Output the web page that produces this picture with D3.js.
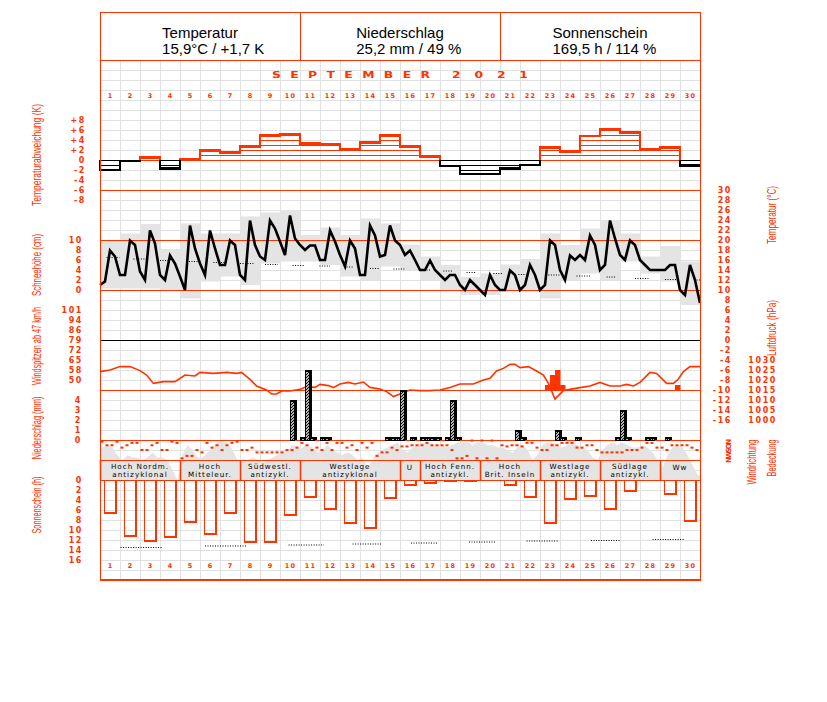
<!DOCTYPE html>
<html><head><meta charset="utf-8">
<script src="https://cdn.jsdelivr.net/npm/d3@7"></script>
<style>body{margin:0;background:#fff}</style>
</head><body><svg id="c" width="827" height="702" xmlns="http://www.w3.org/2000/svg"></svg>
<script>
// ---------------- DATA ----------------
const days = d3.range(1, 31);
const headerTitles = ['Temperatur', 'Niederschlag', 'Sonnenschein'];
const headerValues = ['15,9°C / +1,7 K', '25,2 mm / 49 %', '169,5 h / 114 %'];
const monthLabel = 'SEPTEMBER';
const yearLabel = '2021';

// daily temperature anomaly (K)
const anomaly = [-2.0,-0.2,0.5,-1.7,0.2,1.9,1.5,2.7,4.9,5.1,3.3,3.1,2.1,3.5,4.9,2.7,0.7,-1.2,-2.8,-2.8,-1.7,-1.0,2.5,1.7,4.8,6.1,5.5,2.1,2.5,-1.1];

// 6-hourly temperature (°C), 121 readings from 1st 00h to 30th 24h
const temp6h = [11.0,11.7,17.9,16.7,13.0,13.0,19.9,19.0,13.7,12.0,21.9,19.3,13.0,12.0,16.9,15.3,12.7,10.0,22.9,18.3,
15.3,13.0,21.9,18.3,15.0,15.0,19.9,19.0,13.0,12.0,23.9,19.0,16.7,16.0,23.9,22.3,19.7,17.0,24.9,20.3,
19.0,18.0,18.9,18.9,16.0,16.0,21.9,19.7,17.0,14.7,19.9,18.3,13.0,13.0,22.9,20.9,16.7,17.0,22.9,19.9,
19.0,17.0,17.9,16.0,14.0,14.0,15.9,14.0,13.0,12.0,13.0,13.0,11.0,10.0,12.0,11.0,10.0,9.0,13.0,11.0,
10.0,10.0,13.9,13.0,10.0,11.0,15.0,13.0,10.0,11.0,19.9,19.0,14.0,12.0,16.9,16.0,17.0,16.0,20.9,19.0,
14.0,15.0,23.9,20.3,17.0,16.0,19.9,19.0,16.0,15.0,14.0,14.0,14.0,14.0,15.0,15.0,10.0,9.0,15.0,12.0,7.4];

// daily grey band (°C)
const bandMax = [20,21.3,23.2,18.2,23.3,21.3,21.3,24.7,25.5,26,21,22.5,21,24.3,23.3,19.1,16.7,15,12.6,13.3,15.1,16.2,21.3,19,22.3,24,21.3,16.7,18.8,15.7];
const bandMin = [10.3,10.3,10.3,10,8.3,11.7,12.7,11,15.3,15.7,15.7,15,12.7,12,14.7,14,12,10,9,9,9.7,9.7,8.3,12,13.3,12,15.7,13.3,11.7,7];

// normal temperature (dotted segments)
const normTStart = [0.33,1.67,3.0,4.45,5.67,7.0,8.25,9.63,10.97,12.33,13.5,14.67,16.08,17.17,18.33,19.67,20.92,22.42,23.83,25.33,26.75,28.25,29.83];
const normTEnd   = [0.97,2.33,3.5,4.95,6.33,7.67,8.9,10.2,11.5,12.67,14.0,15.25,16.5,17.67,18.83,20.17,21.33,23.0,24.5,25.83,27.42,28.83,30];
const normTVal   = [16.5,16.2,15.9,15.7,15.5,15.3,15.1,14.9,14.8,14.6,14.3,14.2,14.0,13.8,13.5,13.3,13.1,13.0,12.8,12.6,12.3,12.1,12.0];

// air pressure (time in days, hPa)
const pressTime = [0,0.5,1,1.5,2,2.33,2.67,3.17,3.75,4.25,4.75,5,5.67,6.33,6.83,7.08,7.5,7.83,8.33,8.58,8.83,9.08,9.5,10,10.33,10.75,11,11.42,11.67,12,12.42,12.75,13.17,13.5,14,14.33,14.67,15,15.5,16,16.5,17,17.5,18,18.67,19.17,19.5,19.83,20.17,20.5,20.75,21,21.42,21.83,22.17,22.42,22.75,23.17,23.5,24,24.5,25,25.5,26,26.33,26.67,27,27.5,27.83,28.33,28.67,28.92,29.17,29.5,30];
const pressVal = [1024.2,1025,1026.7,1026.7,1024.7,1022.5,1018.3,1019.2,1019.2,1022.5,1022,1023.8,1023.3,1023.8,1023.3,1023.8,1020.3,1017,1015,1013,1013,1014.5,1014.5,1015.3,1016.7,1016.3,1017.8,1017.2,1016.2,1018,1018.8,1018,1019,1016.3,1015.5,1014.2,1011.7,1013,1015,1014.7,1014.7,1015,1016.2,1018,1018,1020,1020.8,1024.5,1025.8,1027.8,1027.8,1026.2,1026.7,1024.5,1022.5,1018.3,1010.5,1014.7,1015.3,1016.2,1017,1018.8,1017,1017,1017.8,1017,1018.8,1023.8,1023.3,1018.3,1018.3,1020.5,1024.2,1026.7,1026.7];

// wind gusts (6-hour slot index, km/h)
const gustSlot = [89,90,91,92,115];
const gustVal  = [46.8,54,57.6,46.8,46.8];

// precipitation (6-hour slot index, mm)
const precSlot = [38,40,41,42,44,45,57,58,59,60,62,64,65,66,67,69,70,71,83,84,91,92,95,103,104,105,109,110,113];
const precVal  = [4.0,0.3,7.0,0.3,0.3,0.3,0.3,0.3,0.3,5.0,0.3,0.3,0.3,0.3,0.3,0.3,4.0,0.3,1.0,0.3,1.0,0.3,0.3,0.3,3.0,0.3,0.3,0.3,0.3];

// wind direction (degrees, 6-hourly, 120 values)
const windDir = [22,90,90,22, 135,90,45,45, 180,180,90,45, 180,180,22,45, 337,292,292,180,
225,45,135,90, 180,90,45,22, 180,180,135,225, 225,225,225,225, 225,180,180,135,
45,90,180,135, 180,45,180,45, 45,135,90,180, 45,135,45,292, 225,225,135,180,
112,112,90,90, 90,45,90,90, 90,90,180,337, 337,292,0,337, 0,337,0,337,
90,112,90,90, 112,45,45,135, 180,180,90,90, 45,45,45,135, 135,90,90,180,
225,225,225,225, 225,180,180,180, 135,45,45,135, 135,180,90,90, 90,90,135,180];

// cloud cover (eighths, 6-hourly, 120 values)
const cover = [6.5,7,6.5,5, 4,5,4.5,4.5, 4,4.5,5.5,4.5, 4.5,4,2,0, 5,7,6,4.5,
4.5,5.5,6.5,7.5, 7.8,7.5,6,4, 3.5,4,4.5,4, 3.5,4,4.5,5, 5.5,6,7,6.5,
6.5,7,6.5,5.5, 6,7,6,5.5, 5,5.5,5,4, 4.5,2.5,4,5.5, 6,6.5,7,7.5,
6,5.5,6.5,7, 7.5,7.5,7,7, 7,6.5,7,7.5, 7.5,7.5,7,7.5, 7.5,7,7,6.5,
6.5,6,5.5,6.5, 7,6,4,5, 7,7.5,7.5,7, 6.5,7,7.5,7, 6.5,6,4.5,4,
6,7,7.5,7, 7.5,7,6.5,6.5, 7,6.5,5.5,4, 2.5,5,6.5,7, 6.5,5,3,1];

// weather types (Großwetterlagen)
const wtStart = [0,4,7,10,15,16,19,22,25,28];
const wtEnd   = [4,7,10,15,16,19,22,25,28,30];
const wtLine1 = ['Hoch Nordm.','Hoch','Südwestl.','Westlage','U','Hoch Fenn.','Hoch','Westlage','Südlage','Ww'];
const wtLine2 = ['antizyklonal','Mitteleur.','antizykl.','antizyklonal','','antizykl.','Brit. Inseln','antizykl.','antizykl.',''];

// sunshine (h per day)
const sun = [6.7,11.3,12.3,11.5,8.5,10.9,6.7,12.5,12.5,7.1,3.5,5.9,8.7,9.7,3.7,1.0,0.7,0.2,0.2,0,1.0,3.5,8.7,3.9,3.3,5.9,2.3,0,2.9,8.3];
const normSStart = [1.03,5.25,9.43,12.63,15.55,18.45,21.33,24.55,27.63];
const normSEnd   = [3.12,7.3,11.2,14.1,16.88,19.8,22.9,26.0,29.2];
const normSVal   = [13.5,13.2,13.0,12.8,12.6,12.4,12.2,12.1,11.9];

// tick labels
const anomTicks = [8,6,4,2,0,-2,-4,-6,-8];
const snowTicks = [10,8,6,4,2,0];
const windTicks = [100.8,93.6,86.4,79.2,72,64.8,57.6,50.4];
const precTicks = [4,3,2,1,0];
const sunTicks  = [0,2,4,6,8,10,12,14,16];
const tempTicks = d3.range(30,-17,-2);
const pressTicks = [1030,1025,1020,1015,1010,1005,1000];

// ---------------- DRAW ----------------
const RED = '#ff3300', GRID = '#e1e1e1', GREY = '#e4e4e4';
const svg = d3.select('#c');
svg.append('rect').attr('width',827).attr('height',702).attr('fill','#fff');

const x = d3.scaleLinear().domain([0,30]).range([100,700]);
const yAnom = d3.scaleLinear().domain([-8,8]).range([200,120]);
const yTemp = d3.scaleLinear().domain([-16,30]).range([420,190]);
const ySnow = d3.scaleLinear().domain([0,10]).range([290,240]);
const yPress = d3.scaleLinear().domain([1000,1030]).range([420,360]);
const yWind = d3.scaleLinear().domain([43.2,100.8]).range([390,310]);
const yPrec = d3.scaleLinear().domain([0,4]).range([440,400]);
const yDir = d3.scaleLinear().domain([0,360]).range([440.5,459.5]);
const yCover = d3.scaleLinear().domain([0,8]).range([480,440]);
const ySun = d3.scaleLinear().domain([0,16]).range([480,560]);

const defs = svg.append('defs');
const pat = defs.append('pattern').attr('id','hatch').attr('patternUnits','userSpaceOnUse').attr('width',3).attr('height',3);
pat.append('rect').attr('width',3).attr('height',3).attr('fill','#fff');
pat.append('path').attr('d','M-1,1 L1,-1 M0,3 L3,0 M2,4 L4,2').attr('stroke','#000').attr('stroke-width',1.1);

// grid
const grid = svg.append('g').attr('shape-rendering','crispEdges');
d3.range(60,581,10).forEach(y => grid.append('line').attr('x1',100).attr('x2',700).attr('y1',y+0.5).attr('y2',y+0.5).attr('stroke',GRID));
d3.range(0,31).forEach(i => grid.append('line').attr('x1',x(i)+0.5).attr('x2',x(i)+0.5).attr('y1',60).attr('y2',580).attr('stroke',GRID));

// temperature grey bands
svg.append('g').selectAll('rect').data(days).join('rect')
  .attr('x',(d,i)=>x(i)).attr('width',x(1)-x(0))
  .attr('y',(d,i)=>yTemp(bandMax[i])).attr('height',(d,i)=>yTemp(bandMin[i])-yTemp(bandMax[i]))
  .attr('fill',GREY);

// cloud cover area
const coverPts = [[0,cover[0]]].concat(cover.map((c,i)=>[i/4+0.125,c])).concat([[30,cover[cover.length-1]]]);
svg.append('path').datum(coverPts)
  .attr('d', d3.area().x(d=>x(d[0])).y0(yCover(0)).y1(d=>yCover(d[1])))
  .attr('fill',GREY);

// separators
const sep = svg.append('g').attr('shape-rendering','crispEdges');
[yTemp(30), yTemp(20), yTemp(10), yWind(43.2), yPrec(0), 460, yCover(0)].forEach(y =>
  sep.append('line').attr('x1',100).attr('x2',700).attr('y1',y+0.5).attr('y2',y+0.5).attr('stroke',RED).attr('stroke-width',1.2));
sep.append('line').attr('x1',100).attr('x2',700).attr('y1',yTemp(0)+0.5).attr('y2',yTemp(0)+0.5).attr('stroke','#000').attr('stroke-width',1.2);

// temperature anomaly: hatching + steps
const ga = svg.append('g').attr('shape-rendering','crispEdges');
anomaly.forEach((v,i) => {
  const col = v > 0 ? RED : '#000';
  const s = v >= 0 ? 1 : -1;
  for (let j = 0; j < Math.abs(v); j++) {
    ga.append('line').attr('x1',x(i)).attr('x2',x(i+1)).attr('y1',yAnom(s*j)).attr('y2',yAnom(s*j)).attr('stroke',col).attr('stroke-width',1);
  }
  ga.append('line').attr('x1',x(i)-1).attr('x2',x(i+1)+1).attr('y1',yAnom(v)).attr('y2',yAnom(v)).attr('stroke',col).attr('stroke-width',2.5);
  const pv = i === 0 ? 0 : anomaly[i-1];
  if ((pv >= 0) === (v >= 0) || pv === 0) {
    ga.append('line').attr('x1',x(i)).attr('x2',x(i)).attr('y1',yAnom(pv)).attr('y2',yAnom(v)).attr('stroke',col).attr('stroke-width',2.5);
  } else {
    ga.append('line').attr('x1',x(i)).attr('x2',x(i)).attr('y1',yAnom(pv)).attr('y2',yAnom(0)).attr('stroke',pv>0?RED:'#000').attr('stroke-width',2.5);
    ga.append('line').attr('x1',x(i)).attr('x2',x(i)).attr('y1',yAnom(0)).attr('y2',yAnom(v)).attr('stroke',col).attr('stroke-width',2.5);
  }
});

// normal temperature dotted
svg.append('g').selectAll('line').data(normTVal).join('line')
  .attr('x1',(d,i)=>x(normTStart[i])).attr('x2',(d,i)=>x(normTEnd[i]))
  .attr('y1',d=>yTemp(d)).attr('y2',d=>yTemp(d))
  .attr('stroke','#000').attr('stroke-width',1).attr('stroke-dasharray','1,1.5');

// temperature line
svg.append('path').datum(temp6h)
  .attr('d', d3.line().x((d,i)=>x(i/4)).y(d=>yTemp(d)))
  .attr('fill','none').attr('stroke','#000').attr('stroke-width',2.6).attr('stroke-linejoin','miter');

// pressure line
svg.append('path').datum(pressVal)
  .attr('d', d3.line().x((d,i)=>x(pressTime[i])).y(d=>yPress(d)))
  .attr('fill','none').attr('stroke',RED).attr('stroke-width',1.6);

// gusts
svg.append('g').selectAll('rect').data(gustVal).join('rect')
  .attr('x',(d,i)=>x(gustSlot[i]/4)).attr('width',x(0.25)-x(0)+0.5)
  .attr('y',d=>yWind(d)).attr('height',d=>yWind(43.2)-yWind(d))
  .attr('fill',RED);

// precipitation
const gp = svg.append('g').attr('shape-rendering','crispEdges');
precVal.forEach((v,i) => {
  const x0 = x(precSlot[i]/4);
  const yt = yPrec(v);
  const h = yPrec(0) - yt;
  gp.append('rect').attr('x',x0+0.5).attr('y',yt+0.5).attr('width',4).attr('height',Math.max(h-0.5,1)).attr('fill','url(#hatch)').attr('stroke','#000').attr('stroke-width',1);
  gp.append('rect').attr('x',x0+4.5).attr('y',yt).attr('width',2.2).attr('height',h).attr('fill','#000');
  gp.append('rect').attr('x',x0).attr('y',yt).attr('width',6.7).attr('height',1.5).attr('fill','#000');
});

// wind direction dots
svg.append('g').selectAll('rect').data(windDir).join('rect')
  .attr('x',(d,i)=>x(i/4)+0.5).attr('y',d=>yDir(d)-1).attr('width',3).attr('height',2).attr('fill',RED);

// weather types
const gw = svg.append('g');
wtStart.forEach((s,i) => {
  gw.append('line').attr('x1',x(s)+0.5).attr('x2',x(s)+0.5).attr('y1',460).attr('y2',480).attr('stroke',RED).attr('stroke-width',1.5);
  const cx = (x(s)+x(wtEnd[i]))/2;
  const style = t => t.attr('text-anchor','middle')
    .style('font-family',"'DejaVu Sans',sans-serif").style('font-size','7.2px').style('letter-spacing','1px').attr('fill','#000');
  if (wtLine2[i]) {
    gw.append('text').attr('x',cx).attr('y',468.6).call(style).text(wtLine1[i]);
    gw.append('text').attr('x',cx).attr('y',476.6).call(style).text(wtLine2[i]);
  } else {
    gw.append('text').attr('x',cx).attr('y',469.5).call(style).text(wtLine1[i]);
  }
});

// sunshine bars
const gs = svg.append('g').attr('shape-rendering','crispEdges');
sun.forEach((v,i) => {
  if (v <= 0) return;
  const x0 = x(i) + 4, x1 = x(i) + 17;
  const yb = ySun(v);
  gs.append('rect').attr('x',x0+0.5).attr('y',480).attr('width',x1-x0-1).attr('height',yb-480).attr('fill','none').attr('stroke',RED).attr('stroke-width',1);
  gs.append('rect').attr('x',x1-2.5).attr('y',480).attr('width',2.5).attr('height',yb-480+0.5).attr('fill',RED);
  gs.append('rect').attr('x',x0).attr('y',yb-1.5).attr('width',x1-x0).attr('height',2).attr('fill',RED);
});
svg.append('g').selectAll('line').data(normSVal).join('line')
  .attr('x1',(d,i)=>x(normSStart[i])).attr('x2',(d,i)=>x(normSEnd[i]))
  .attr('y1',d=>ySun(d)).attr('y2',d=>ySun(d))
  .attr('stroke','#000').attr('stroke-width',1).attr('stroke-dasharray','1,1.5');

// outer frame and header
const fr = svg.append('g').attr('shape-rendering','crispEdges');
fr.append('rect').attr('x',100.5).attr('y',12.5).attr('width',600).attr('height',567.5).attr('fill','none').attr('stroke',RED).attr('stroke-width',1.5);
fr.append('line').attr('x1',100).attr('x2',700).attr('y1',60.5).attr('y2',60.5).attr('stroke',RED).attr('stroke-width',1.5);
[300,500].forEach(xx => fr.append('line').attr('x1',xx+0.5).attr('x2',xx+0.5).attr('y1',12).attr('y2',60).attr('stroke',RED).attr('stroke-width',1.2));

headerTitles.forEach((t,i) => {
  const cx = 200 + i*200;
  const t1 = svg.append('text').attr('x',cx).attr('y',37.5).attr('text-anchor','middle')
    .style('font-family',"'Liberation Sans',Arial,sans-serif").style('font-size','15px').attr('fill','#000').text(t);
  const bx = t1.node().getBBox().x;
  svg.append('text').attr('x',bx).attr('y',54).attr('text-anchor','start')
    .style('font-family',"'Liberation Sans',Arial,sans-serif").style('font-size','15px').attr('fill','#000').text(headerValues[i]);
});

// month label
const pixFont = "'DejaVu Sans',sans-serif";
svg.append('text').attr('transform','translate(272,78.3) scale(1.55,1)')
  .attr('textLength',158/1.55).attr('lengthAdjust','spacing')
  .style('font-family',pixFont).style('font-size','8px').style('font-weight','bold').attr('fill',RED).text(monthLabel);
svg.append('text').attr('transform','translate(452,78.3) scale(1.55,1)')
  .attr('textLength',76/1.55).attr('lengthAdjust','spacing')
  .style('font-family',pixFont).style('font-size','8px').style('font-weight','bold').attr('fill',RED).text(yearLabel);

// day labels top and bottom
[97.5, 567.5].forEach(yy => {
  svg.append('g').selectAll('text').data(days).join('text')
    .attr('x',(d,i)=>x(i+0.5)+0.5).attr('y',yy).attr('text-anchor','middle')
    .style('font-family',pixFont).style('font-size','6.5px').style('font-weight','bold').style('letter-spacing','1.2px')
    .attr('fill',RED).text(d=>d);
});

// axes
function styleAxis(g) {
  g.select('.domain').remove();
  g.selectAll('line').remove();
  g.attr('font-family',null).attr('font-size',null);
  g.selectAll('text').attr('fill',RED).style('font-family',pixFont).style('font-size','8px')
   .style('font-weight','bold').style('letter-spacing','1.6px');
}
svg.append('g').attr('transform','translate(86,0)')
  .call(d3.axisLeft(yAnom).tickValues(anomTicks).tickSize(0).tickPadding(0).tickFormat(d => d > 0 ? '+' + d : String(d)))
  .call(styleAxis);
svg.append('g').attr('transform','translate(83,0)')
  .call(d3.axisLeft(ySnow).tickValues(snowTicks).tickSize(0).tickPadding(0).tickFormat(d=>String(d)))
  .call(styleAxis);
svg.append('g').attr('transform','translate(83,0)')
  .call(d3.axisLeft(yWind).tickValues(windTicks).tickSize(0).tickPadding(0).tickFormat(d=>String(Math.round(d))))
  .call(styleAxis);
svg.append('g').attr('transform','translate(82,0)')
  .call(d3.axisLeft(yPrec).tickValues(precTicks).tickSize(0).tickPadding(0).tickFormat(d=>String(d)))
  .call(styleAxis);
svg.append('g').attr('transform','translate(83,0)')
  .call(d3.axisLeft(ySun).tickValues(sunTicks).tickSize(0).tickPadding(0).tickFormat(d=>String(d)))
  .call(styleAxis);
svg.append('g').attr('transform','translate(732,0)')
  .call(d3.axisLeft(yTemp).tickValues(tempTicks).tickSize(0).tickPadding(0).tickFormat(d=>String(d)))
  .call(styleAxis);
svg.append('g').attr('transform','translate(777,0)')
  .call(d3.axisLeft(yPress).tickValues(pressTicks).tickSize(0).tickPadding(0).tickFormat(d=>String(d)))
  .call(styleAxis);

// rotated titles
function vtext(xb, yc, str, len, size) {
  svg.append('text').attr('transform',`translate(${xb},${yc}) rotate(-90)`)
    .attr('text-anchor','middle').attr('textLength',len).attr('lengthAdjust','spacingAndGlyphs')
    .style('font-family',"'Liberation Sans Narrow','Liberation Sans',Arial,sans-serif").style('font-size',size+'px')
    .attr('fill',RED).text(str);
}
vtext(41, 155, 'Temperaturabweichung (K)', 102, 13);
vtext(41, 265, 'Schneehöhe (cm)', 62, 13);
vtext(41, 346, 'Windspitzen ab 47 km/h', 78, 13);
vtext(41, 428, 'Niederschlag (mm)', 63, 13);
vtext(41, 505, 'Sonnenschein (h)', 57, 13);
vtext(776, 215, 'Temperatur (°C)', 58, 13);
vtext(776, 328, 'Luftdruck (hPa)', 56, 13);
vtext(756, 462, 'Windrichtung', 45, 13);
vtext(776, 458, 'Bedeckung', 37, 13);
svg.append('text').attr('transform','translate(731,451) rotate(-90)')
  .attr('text-anchor','middle').attr('textLength',24).attr('lengthAdjust','spacing')
  .style('font-family',pixFont).style('font-size','7px').style('font-weight','bold').attr('fill',RED).text('NWSON');
</script>
</body></html>
